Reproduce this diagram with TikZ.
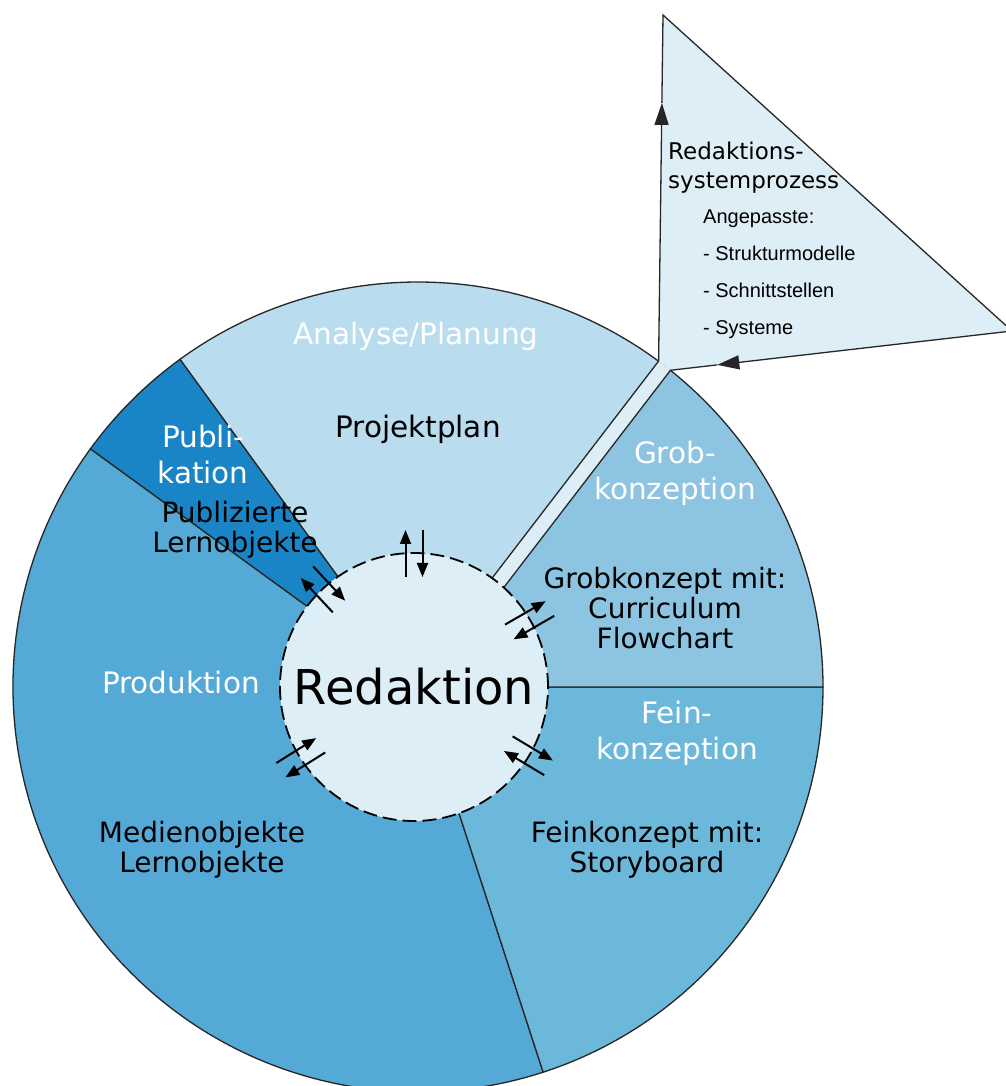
\documentclass[tikz,border=0pt]{standalone}
\usepackage{fontspec}
\setmainfont{DejaVu Sans}
\newfontfamily\listfont{Liberation Sans}
\usepackage{xcolor}
\definecolor{analyse}{HTML}{B9DDEE}
\definecolor{grob}{HTML}{8CC4E2}
\definecolor{fein}{HTML}{6CB8DA}
\definecolor{prod}{HTML}{55A9D6}
\definecolor{publ}{HTML}{1A85C6}
\definecolor{light}{HTML}{DDEEF7}
\usepackage{tikz}
\usetikzlibrary{arrows.meta,calc}

\begin{document}
\begin{tikzpicture}[x=1pt, y=1pt,
    sector/.style={draw=black!85, line width=1.3pt},
    rim/.style={draw=black!85, line width=1.3pt},
    phase/.style={text=white, font=\fontsize{29.5}{36}\selectfont, align=center, inner sep=0pt},
    result/.style={text=black, font=\fontsize{28}{30}\selectfont, align=center, inner sep=0pt},
    listitem/.style={font=\listfont\fontsize{20}{24}\selectfont, inner sep=0pt, anchor=base west},
    flow/.style={line width=2pt, -{Triangle[length=14pt,width=11pt]}},
    bigflow/.style={rim, -{Triangle[length=22pt,width=14pt]}}]
  \useasboundingbox (-418,-399) rectangle (587,687);

  % phases of the cycle
  \filldraw[sector, fill=analyse] (0,0) -- (52.5:405) arc[start angle=52.5, end angle=126, radius=405] -- cycle;
  \filldraw[sector, fill=publ] (0,0) -- (126:405) arc[start angle=126, end angle=144, radius=405] -- cycle;
  \filldraw[sector, fill=prod] (0,0) -- (144:405) arc[start angle=144, end angle=288, radius=405] -- cycle;
  \filldraw[sector, fill=fein] (0,0) -- (-72:405) arc[start angle=-72, end angle=0, radius=405] -- cycle;
  \filldraw[sector, fill=grob] (0,0) -- (0:405) arc[start angle=0, end angle=52.5, radius=405] -- cycle;

  % strip out to the triangle
  \coordinate (sa0) at (142.5:7.5);
  \coordinate (sg0) at (-37.5:7.5);
  \coordinate (sa) at ($(52.5:405)+(142.5:7.5)$);
  \coordinate (sg) at ($(52.5:405)+(-37.5:7.5)$);
  \coordinate (ttop) at (245,672);
  \coordinate (tright) at (594,356);
  \coordinate (upmark) at ($(sa)!0.746!(ttop)$);
  \coordinate (backmark) at ($(sg)!0.137!(tright)$);
  \fill[light] (sa0) -- (sa) -- (sg) -- (sg0) -- cycle;
  \fill[light] (sa) -- (ttop) -- (tright) -- (sg) -- cycle;
  \draw[rim] (sa0) -- (sa);
  \draw[bigflow] (sa) -- (upmark);
  \draw[rim] (upmark) -- (ttop) -- (tright);
  \draw[bigflow] (tright) -- (backmark);
  \draw[rim] (backmark) -- (sg) -- (sg0);

  % centre
  \node[circle, draw=black, line width=1.8pt, dash pattern=on 14pt off 6pt,
        fill=light, minimum size=268pt, inner sep=0pt,
        font=\fontsize{48}{56}\selectfont] (red) at (-4,0) {Redaktion};
  \foreach \ang in {90,133,30,-31,212} {
    \draw[flow] ($(red.center)+(\ang:110)+(\ang+90:8.5)$) -- ($(red.center)+(\ang:157)+(\ang+90:8.5)$);
    \draw[flow] ($(red.center)+(\ang:157)+(\ang-90:8.5)$) -- ($(red.center)+(\ang:110)+(\ang-90:8.5)$);
  }

  % labels
  \node[phase] (analyse) at (-2,351) {Analyse/Planung};
  \node[phase, text=black] (plan) at (0,258) {Projektplan};
  \node[phase] (publ) at (-215,232) {Publi-\\kation};
  \node[result] (publres) at (-183,157) {Publizierte\\Lernobjekte};
  \node[phase] (grob) at (257,214) {Grob-\\konzeption};
  \node[result] (grobres) at (247,79) {Grobkonzept mit:\\Curriculum\\Flowchart};
  \node[phase] (fein) at (259,-46.5) {Fein-\\konzeption};
  \node[result] (feinres) at (229,-163) {Feinkonzept mit:\\Storyboard};
  \node[phase] (prod) at (-237,4) {Produktion};
  \node[result] (prodres) at (-216,-163) {Medienobjekte\\Lernobjekte};

  \node[anchor=west, align=left, inner sep=0pt, font=\fontsize{23}{29}\selectfont] (rsp) at (250,519.5) {Redaktions-\\systemprozess};
  \foreach \entry [count=\i] in {Angepasste:, - Strukturmodelle, - Schnittstellen, - Systeme}
    \node[listitem] (item\i) at (285,463-36.7*\i+36.7) {\entry};
\end{tikzpicture}
\end{document}
